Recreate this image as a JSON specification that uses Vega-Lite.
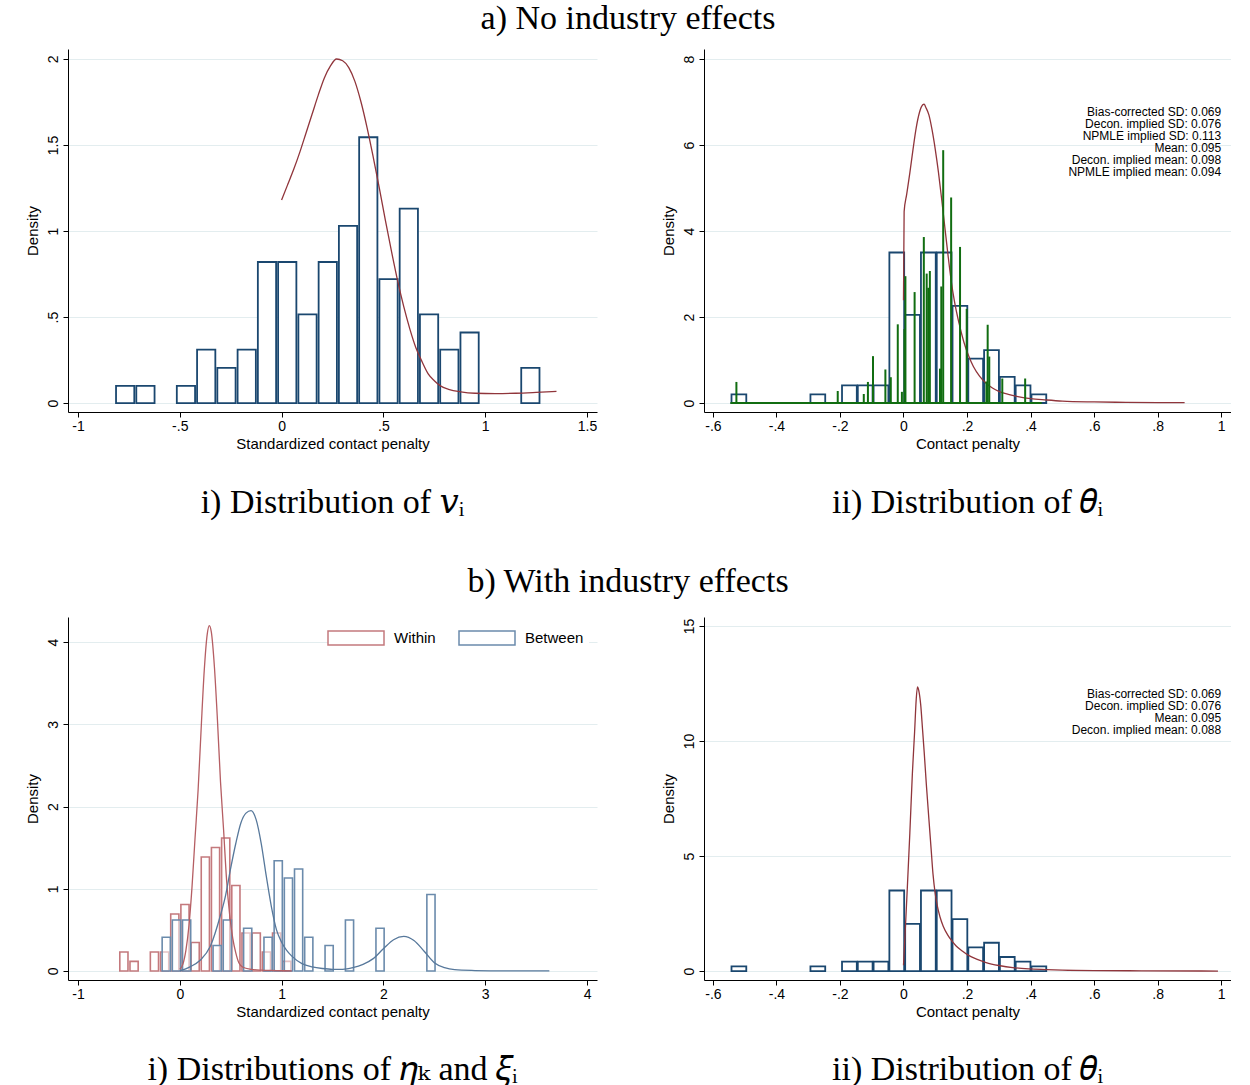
{
  "$schema": "https://vega.github.io/schema/vega-lite/v6.json",
  "background": "white",
  "padding": {"left": 25, "top": 2, "right": 0, "bottom": 0},
  "spacing": 45,
  "resolve": {"scale": {"stroke": "independent"}, "legend": {"stroke": "independent"}},
  "config": {
    "view": {"stroke": null},
    "font": "Liberation Sans",
    "axis": {"domainColor": "#000", "domainWidth": 1, "tickColor": "#000", "tickSize": 5, "labelFont": "Liberation Sans", "labelFontSize": 14, "labelColor": "#000", "titleFont": "Liberation Sans", "titleFontSize": 15, "titleFontWeight": "normal", "titleColor": "#000", "gridColor": "#e3edef", "gridWidth": 1, "labelFlush": false, "labelOverlap": false},
    "axisX": {"grid": false, "labelPadding": 2, "titlePadding": 3},
    "axisY": {"grid": true, "labelAngle": -90, "labelPadding": 3, "titlePadding": 6},
    "title": {"font": "Liberation Serif, DejaVu Serif", "fontSize": 34, "fontWeight": "normal", "color": "#000"}
  },
  "datasets": {
    "hv": [
      {"x0": -0.818, "x1": -0.7185, "d": 0.10},
      {"x0": -0.7185, "x1": -0.619, "d": 0.10},
      {"x0": -0.5195, "x1": -0.42, "d": 0.10},
      {"x0": -0.42, "x1": -0.3205, "d": 0.31},
      {"x0": -0.3205, "x1": -0.221, "d": 0.205},
      {"x0": -0.221, "x1": -0.1215, "d": 0.31},
      {"x0": -0.1215, "x1": -0.022, "d": 0.82},
      {"x0": -0.022, "x1": 0.0775, "d": 0.82},
      {"x0": 0.0775, "x1": 0.177, "d": 0.515},
      {"x0": 0.177, "x1": 0.2765, "d": 0.82},
      {"x0": 0.2765, "x1": 0.376, "d": 1.03},
      {"x0": 0.376, "x1": 0.4755, "d": 1.545},
      {"x0": 0.4755, "x1": 0.575, "d": 0.72},
      {"x0": 0.575, "x1": 0.6745, "d": 1.13},
      {"x0": 0.6745, "x1": 0.774, "d": 0.515},
      {"x0": 0.774, "x1": 0.8735, "d": 0.31},
      {"x0": 0.8735, "x1": 0.973, "d": 0.41},
      {"x0": 1.172, "x1": 1.2715, "d": 0.205}
    ],
    "cv": [
      {"x": 0.00, "y": 1.18}, {"x": 0.03, "y": 1.27}, {"x": 0.06, "y": 1.36}, {"x": 0.09, "y": 1.46},
      {"x": 0.12, "y": 1.57}, {"x": 0.15, "y": 1.68}, {"x": 0.18, "y": 1.79}, {"x": 0.21, "y": 1.89},
      {"x": 0.24, "y": 1.96}, {"x": 0.27, "y": 2.00}, {"x": 0.30, "y": 1.99}, {"x": 0.33, "y": 1.95},
      {"x": 0.36, "y": 1.87}, {"x": 0.39, "y": 1.75}, {"x": 0.42, "y": 1.60}, {"x": 0.45, "y": 1.43},
      {"x": 0.48, "y": 1.25}, {"x": 0.51, "y": 1.06}, {"x": 0.54, "y": 0.88}, {"x": 0.57, "y": 0.71},
      {"x": 0.60, "y": 0.56}, {"x": 0.63, "y": 0.43}, {"x": 0.66, "y": 0.32}, {"x": 0.69, "y": 0.24},
      {"x": 0.72, "y": 0.17}, {"x": 0.75, "y": 0.13}, {"x": 0.78, "y": 0.10}, {"x": 0.82, "y": 0.08},
      {"x": 0.88, "y": 0.065}, {"x": 0.95, "y": 0.057}, {"x": 1.05, "y": 0.055}, {"x": 1.15, "y": 0.057},
      {"x": 1.25, "y": 0.062}, {"x": 1.35, "y": 0.068}
    ],
    "ht": [
      {"x0": -0.543, "x1": -0.4933, "d": 0.2},
      {"x0": -0.2945, "x1": -0.2448, "d": 0.2},
      {"x0": -0.1951, "x1": -0.1454, "d": 0.41},
      {"x0": -0.1454, "x1": -0.0957, "d": 0.41},
      {"x0": -0.0957, "x1": -0.046, "d": 0.41},
      {"x0": -0.046, "x1": 0.0037, "d": 3.5},
      {"x0": 0.0037, "x1": 0.0534, "d": 2.05},
      {"x0": 0.0534, "x1": 0.1031, "d": 3.5},
      {"x0": 0.1031, "x1": 0.1528, "d": 3.5},
      {"x0": 0.1528, "x1": 0.2025, "d": 2.26},
      {"x0": 0.2025, "x1": 0.2522, "d": 1.03},
      {"x0": 0.2522, "x1": 0.3019, "d": 1.23},
      {"x0": 0.3019, "x1": 0.3516, "d": 0.61},
      {"x0": 0.3516, "x1": 0.4013, "d": 0.41},
      {"x0": 0.4013, "x1": 0.451, "d": 0.2}
    ],
    "ca": [
      {"x": 0.000, "y": 2.39}, {"x": 0.002, "y": 4.45}, {"x": 0.010, "y": 4.85}, {"x": 0.020, "y": 5.35},
      {"x": 0.030, "y": 5.90}, {"x": 0.040, "y": 6.40}, {"x": 0.050, "y": 6.75}, {"x": 0.060, "y": 6.93},
      {"x": 0.065, "y": 6.95}, {"x": 0.070, "y": 6.88}, {"x": 0.080, "y": 6.70}, {"x": 0.090, "y": 6.35},
      {"x": 0.100, "y": 5.90}, {"x": 0.110, "y": 5.37}, {"x": 0.120, "y": 4.75}, {"x": 0.130, "y": 4.10},
      {"x": 0.140, "y": 3.45}, {"x": 0.150, "y": 2.85}, {"x": 0.160, "y": 2.38}, {"x": 0.175, "y": 1.85},
      {"x": 0.190, "y": 1.42}, {"x": 0.205, "y": 1.10}, {"x": 0.220, "y": 0.85}, {"x": 0.240, "y": 0.62},
      {"x": 0.260, "y": 0.46}, {"x": 0.280, "y": 0.35}, {"x": 0.300, "y": 0.27}, {"x": 0.330, "y": 0.20},
      {"x": 0.360, "y": 0.15}, {"x": 0.400, "y": 0.10}, {"x": 0.450, "y": 0.07}, {"x": 0.500, "y": 0.045},
      {"x": 0.600, "y": 0.025}, {"x": 0.700, "y": 0.015}, {"x": 0.800, "y": 0.01}, {"x": 0.885, "y": 0.008}
    ],
    "sp": [
      {"x": -0.526, "h": 0.49}, {"x": -0.207, "h": 0.28}, {"x": -0.125, "h": 0.21}, {"x": -0.112, "h": 0.49},
      {"x": -0.096, "h": 1.09}, {"x": -0.057, "h": 0.78}, {"x": -0.040, "h": 0.60}, {"x": -0.018, "h": 1.83},
      {"x": -0.005, "h": 0.26}, {"x": 0.003, "h": 1.72}, {"x": 0.006, "h": 2.95}, {"x": 0.035, "h": 2.58},
      {"x": 0.064, "h": 3.86}, {"x": 0.073, "h": 3.01}, {"x": 0.078, "h": 2.68}, {"x": 0.083, "h": 3.07},
      {"x": 0.115, "h": 0.80}, {"x": 0.119, "h": 2.71}, {"x": 0.125, "h": 5.88}, {"x": 0.150, "h": 4.78},
      {"x": 0.178, "h": 3.63}, {"x": 0.199, "h": 2.19}, {"x": 0.261, "h": 0.50}, {"x": 0.265, "h": 1.82},
      {"x": 0.270, "h": 1.08}, {"x": 0.311, "h": 0.57}, {"x": 0.383, "h": 0.57}
    ],
    "sb": [{"a": -0.545, "b": 0.435}],
    "ta": [{"x": 1.0, "y": 6.88, "t": "Bias-corrected SD: 0.069\nDecon. implied SD: 0.076\nNPMLE implied SD: 0.113\nMean: 0.095\nDecon. implied mean: 0.098\nNPMLE implied mean: 0.094"}],
    "hb": [
      {"g": "Within", "x0": -0.599, "x1": -0.499, "d": 0.231},
      {"g": "Within", "x0": -0.499, "x1": -0.399, "d": 0.116},
      {"g": "Within", "x0": -0.299, "x1": -0.199, "d": 0.231},
      {"g": "Within", "x0": -0.199, "x1": -0.099, "d": 0.231},
      {"g": "Within", "x0": -0.099, "x1": 0.001, "d": 0.693},
      {"g": "Within", "x0": 0.001, "x1": 0.101, "d": 0.809},
      {"g": "Within", "x0": 0.101, "x1": 0.201, "d": 0.347},
      {"g": "Within", "x0": 0.201, "x1": 0.301, "d": 1.386},
      {"g": "Within", "x0": 0.301, "x1": 0.401, "d": 1.502},
      {"g": "Within", "x0": 0.401, "x1": 0.501, "d": 1.617},
      {"g": "Within", "x0": 0.501, "x1": 0.601, "d": 1.040},
      {"g": "Within", "x0": 0.601, "x1": 0.701, "d": 0.462},
      {"g": "Within", "x0": 0.701, "x1": 0.801, "d": 0.462},
      {"g": "Within", "x0": 0.801, "x1": 0.901, "d": 0.231},
      {"g": "Within", "x0": 0.901, "x1": 1.001, "d": 0.462},
      {"g": "Within", "x0": 1.001, "x1": 1.101, "d": 0.116},
      {"g": "Between", "x0": -0.183, "x1": -0.083, "d": 0.41},
      {"g": "Between", "x0": -0.083, "x1": 0.017, "d": 0.62},
      {"g": "Between", "x0": 0.017, "x1": 0.117, "d": 0.62},
      {"g": "Between", "x0": 0.317, "x1": 0.417, "d": 0.31},
      {"g": "Between", "x0": 0.417, "x1": 0.517, "d": 0.62},
      {"g": "Between", "x0": 0.617, "x1": 0.717, "d": 0.52},
      {"g": "Between", "x0": 0.817, "x1": 0.917, "d": 0.41},
      {"g": "Between", "x0": 0.917, "x1": 1.017, "d": 1.34},
      {"g": "Between", "x0": 1.017, "x1": 1.117, "d": 1.13},
      {"g": "Between", "x0": 1.117, "x1": 1.217, "d": 1.24},
      {"g": "Between", "x0": 1.217, "x1": 1.317, "d": 0.41},
      {"g": "Between", "x0": 1.417, "x1": 1.517, "d": 0.31},
      {"g": "Between", "x0": 1.617, "x1": 1.717, "d": 0.62},
      {"g": "Between", "x0": 1.917, "x1": 2.017, "d": 0.52},
      {"g": "Between", "x0": 2.417, "x1": 2.517, "d": 0.93}
    ],
    "cw": [
      {"x": 0.00, "y": 0.02}, {"x": 0.03, "y": 0.08}, {"x": 0.06, "y": 0.25}, {"x": 0.09, "y": 0.55},
      {"x": 0.12, "y": 1.02}, {"x": 0.15, "y": 1.62}, {"x": 0.18, "y": 2.20}, {"x": 0.21, "y": 2.95},
      {"x": 0.24, "y": 3.65}, {"x": 0.27, "y": 4.10}, {"x": 0.29, "y": 4.20}, {"x": 0.31, "y": 4.12},
      {"x": 0.34, "y": 3.70}, {"x": 0.37, "y": 3.05}, {"x": 0.40, "y": 2.30}, {"x": 0.43, "y": 1.72},
      {"x": 0.46, "y": 1.10}, {"x": 0.49, "y": 0.68}, {"x": 0.52, "y": 0.40}, {"x": 0.55, "y": 0.22},
      {"x": 0.58, "y": 0.10}, {"x": 0.62, "y": 0.045}, {"x": 0.70, "y": 0.02}, {"x": 0.80, "y": 0.01},
      {"x": 0.95, "y": 0.005}, {"x": 1.10, "y": 0.0}
    ],
    "cb": [
      {"x": 0.00, "y": 0.00}, {"x": 0.10, "y": 0.05}, {"x": 0.20, "y": 0.13}, {"x": 0.30, "y": 0.30},
      {"x": 0.40, "y": 0.68}, {"x": 0.45, "y": 0.92}, {"x": 0.50, "y": 1.25}, {"x": 0.55, "y": 1.55},
      {"x": 0.60, "y": 1.80}, {"x": 0.65, "y": 1.92}, {"x": 0.70, "y": 1.95}, {"x": 0.75, "y": 1.84},
      {"x": 0.80, "y": 1.55}, {"x": 0.85, "y": 1.15}, {"x": 0.90, "y": 0.78}, {"x": 0.95, "y": 0.50},
      {"x": 1.00, "y": 0.35}, {"x": 1.05, "y": 0.25}, {"x": 1.10, "y": 0.18}, {"x": 1.20, "y": 0.09},
      {"x": 1.30, "y": 0.05}, {"x": 1.40, "y": 0.03}, {"x": 1.50, "y": 0.02}, {"x": 1.60, "y": 0.02},
      {"x": 1.70, "y": 0.04}, {"x": 1.80, "y": 0.08}, {"x": 1.90, "y": 0.15}, {"x": 2.00, "y": 0.27},
      {"x": 2.10, "y": 0.38}, {"x": 2.20, "y": 0.42}, {"x": 2.30, "y": 0.37}, {"x": 2.40, "y": 0.24},
      {"x": 2.50, "y": 0.10}, {"x": 2.60, "y": 0.04}, {"x": 2.70, "y": 0.015}, {"x": 2.90, "y": 0.005},
      {"x": 3.20, "y": 0.0}, {"x": 3.63, "y": 0.0}
    ],
    "cc": [
      {"x": 0.000, "y": 0.25}, {"x": 0.005, "y": 1.6}, {"x": 0.012, "y": 3.6}, {"x": 0.020, "y": 6.0},
      {"x": 0.028, "y": 8.6}, {"x": 0.035, "y": 10.4}, {"x": 0.040, "y": 11.8}, {"x": 0.044, "y": 12.35},
      {"x": 0.048, "y": 12.2}, {"x": 0.054, "y": 11.6}, {"x": 0.060, "y": 10.5}, {"x": 0.065, "y": 9.55},
      {"x": 0.072, "y": 8.1}, {"x": 0.080, "y": 6.6}, {"x": 0.087, "y": 5.3}, {"x": 0.093, "y": 4.2},
      {"x": 0.100, "y": 3.35}, {"x": 0.107, "y": 2.8}, {"x": 0.115, "y": 2.35}, {"x": 0.125, "y": 1.95},
      {"x": 0.140, "y": 1.55}, {"x": 0.150, "y": 1.35}, {"x": 0.165, "y": 1.1}, {"x": 0.185, "y": 0.87},
      {"x": 0.205, "y": 0.68}, {"x": 0.230, "y": 0.52}, {"x": 0.260, "y": 0.37}, {"x": 0.300, "y": 0.24},
      {"x": 0.350, "y": 0.14}, {"x": 0.400, "y": 0.09}, {"x": 0.450, "y": 0.06}, {"x": 0.500, "y": 0.04},
      {"x": 0.600, "y": 0.02}, {"x": 0.750, "y": 0.01}, {"x": 0.990, "y": 0.0}
    ],
    "tb": [{"x": 1.0, "y": 12.25, "t": "Bias-corrected SD: 0.069\nDecon. implied SD: 0.076\nMean: 0.095\nDecon. implied mean: 0.088"}]
  },
  "vconcat": [
    {
      "title": {"text": "a) No industry effects", "anchor": "middle", "offset": 13},
      "spacing": 64,
      "resolve": {"scale": {"stroke": "independent"}, "legend": {"stroke": "independent"}},
      "hconcat": [
        {
          "title": {"text": "i) Distribution of 𝑣ᵢ", "orient": "bottom", "anchor": "middle", "offset": 35},
          "width": 529, "height": 363,
          "layer": [
            {
              "data": {"name": "hv"},
              "mark": {"type": "rect", "fill": "white", "stroke": "#1a476f", "strokeWidth": 1.8, "xOffset": 1, "x2Offset": -1},
              "encoding": {
                "x": {"field": "x0", "type": "quantitative", "scale": {"domain": [-1.049, 1.549], "nice": false, "zero": false}, "axis": {"values": [-1, -0.5, 0, 0.5, 1, 1.5], "title": "Standardized contact penalty", "labelExpr": "(datum.value < 0 ? '-' : '') + replace(format(abs(datum.value), '~g'), '0.', '.')"}},
                "x2": {"field": "x1"},
                "y": {"field": "d", "type": "quantitative", "scale": {"domain": [-0.052, 2.058], "nice": false, "zero": false}, "axis": {"values": [0, 0.5, 1, 1.5, 2], "title": "Density", "labelExpr": "(datum.value < 0 ? '-' : '') + replace(format(abs(datum.value), '~g'), '0.', '.')"}},
                "y2": {"datum": 0}
              }
            },
            {
              "data": {"name": "cv"},
              "mark": {"type": "line", "color": "#90353b", "strokeWidth": 1.3, "interpolate": "monotone"},
              "encoding": {
                "x": {"field": "x", "type": "quantitative"},
                "y": {"field": "y", "type": "quantitative"}
              }
            }
          ]
        },
        {
          "title": {"text": "ii) Distribution of 𝜃ᵢ", "orient": "bottom", "anchor": "middle", "offset": 35},
          "width": 527, "height": 363,
          "layer": [
            {
              "data": {"name": "ht"},
              "mark": {"type": "rect", "fill": "white", "stroke": "#1a476f", "strokeWidth": 1.8, "xOffset": 0.5, "x2Offset": -0.5},
              "encoding": {
                "x": {"field": "x0", "type": "quantitative", "scale": {"domain": [-0.628, 1.031], "nice": false, "zero": false}, "axis": {"values": [-0.6, -0.4, -0.2, 0, 0.2, 0.4, 0.6, 0.8, 1], "title": "Contact penalty", "labelExpr": "(datum.value < 0 ? '-' : '') + replace(format(abs(datum.value), '~g'), '0.', '.')"}},
                "x2": {"field": "x1"},
                "y": {"field": "d", "type": "quantitative", "scale": {"domain": [-0.209, 8.233], "nice": false, "zero": false}, "axis": {"values": [0, 2, 4, 6, 8], "title": "Density"}},
                "y2": {"datum": 0}
              }
            },
            {
              "data": {"name": "ca"},
              "mark": {"type": "line", "color": "#90353b", "strokeWidth": 1.3, "interpolate": "monotone"},
              "encoding": {
                "x": {"field": "x", "type": "quantitative"},
                "y": {"field": "y", "type": "quantitative"}
              }
            },
            {
              "data": {"name": "sb"},
              "mark": {"type": "rule", "color": "#116d11", "strokeWidth": 2},
              "encoding": {
                "x": {"field": "a", "type": "quantitative"},
                "x2": {"field": "b"},
                "y": {"datum": 0, "type": "quantitative"}
              }
            },
            {
              "data": {"name": "sp"},
              "mark": {"type": "rule", "color": "#116d11", "strokeWidth": 2},
              "encoding": {
                "x": {"field": "x", "type": "quantitative"},
                "y": {"field": "h", "type": "quantitative"},
                "y2": {"datum": 0}
              }
            },
            {
              "data": {"name": "ta"},
              "mark": {"type": "text", "align": "right", "baseline": "top", "fontSize": 12, "lineBreak": "\n", "lineHeight": 12, "color": "#000"},
              "encoding": {
                "x": {"field": "x", "type": "quantitative"},
                "y": {"field": "y", "type": "quantitative"},
                "text": {"field": "t"}
              }
            }
          ]
        }
      ]
    },
    {
      "title": {"text": "b) With industry effects", "anchor": "middle", "offset": 18},
      "spacing": 64,
      "resolve": {"scale": {"stroke": "independent"}, "legend": {"stroke": "independent"}},
      "hconcat": [
        {
          "title": {"text": "i) Distributions of 𝜂ₖ and 𝜉ᵢ", "orient": "bottom", "anchor": "middle", "offset": 34},
          "width": 529, "height": 363,
          "layer": [
            {
              "data": {"name": "hb"},
              "mark": {"type": "rect", "fill": "white", "strokeWidth": 1.6, "xOffset": 1, "x2Offset": -1},
              "encoding": {
                "x": {"field": "x0", "type": "quantitative", "scale": {"domain": [-1.098, 4.098], "nice": false, "zero": false}, "axis": {"values": [-1, 0, 1, 2, 3, 4], "title": "Standardized contact penalty", "labelExpr": "(datum.value < 0 ? '-' : '') + format(abs(datum.value), '~g')"}},
                "x2": {"field": "x1"},
                "y": {"field": "d", "type": "quantitative", "scale": {"domain": [-0.11, 4.305], "nice": false, "zero": false}, "axis": {"values": [0, 1, 2, 3, 4], "title": "Density", "labelExpr": "format(datum.value, '~g')"}},
                "y2": {"datum": 0},
                "stroke": {"field": "g", "type": "nominal", "scale": {"domain": ["Within", "Between"], "range": ["#c4797d", "#6b8bac"]}, "legend": {"title": null, "orient": "top-right", "direction": "horizontal", "symbolType": "M-4,-1H4V1H-4Z", "symbolSize": 196, "symbolFillColor": "white", "symbolStrokeWidth": 1.5, "labelFontSize": 15, "labelFont": "Liberation Sans", "labelColor": "#000", "fillColor": "white", "padding": 5, "offset": 8, "columnPadding": 20, "labelOffset": 30}},
                "fillOpacity": {"condition": {"test": "datum.g === 'Between'", "value": 0.55}, "value": 1}
              }
            },
            {
              "data": {"name": "cw"},
              "mark": {"type": "line", "color": "#b55e63", "strokeWidth": 1.3, "interpolate": "monotone"},
              "encoding": {
                "x": {"field": "x", "type": "quantitative"},
                "y": {"field": "y", "type": "quantitative"}
              }
            },
            {
              "data": {"name": "cb"},
              "mark": {"type": "line", "color": "#57789b", "strokeWidth": 1.3, "interpolate": "monotone"},
              "encoding": {
                "x": {"field": "x", "type": "quantitative"},
                "y": {"field": "y", "type": "quantitative"}
              }
            }
          ]
        },
        {
          "title": {"text": "ii) Distribution of 𝜃ᵢ", "orient": "bottom", "anchor": "middle", "offset": 34},
          "width": 527, "height": 363,
          "layer": [
            {
              "data": {"name": "ht"},
              "mark": {"type": "rect", "fill": "white", "stroke": "#1a476f", "strokeWidth": 1.8, "xOffset": 0.5, "x2Offset": -0.5},
              "encoding": {
                "x": {"field": "x0", "type": "quantitative", "scale": {"domain": [-0.628, 1.031], "nice": false, "zero": false}, "axis": {"values": [-0.6, -0.4, -0.2, 0, 0.2, 0.4, 0.6, 0.8, 1], "title": "Contact penalty", "labelExpr": "(datum.value < 0 ? '-' : '') + replace(format(abs(datum.value), '~g'), '0.', '.')"}},
                "x2": {"field": "x1"},
                "y": {"field": "d", "type": "quantitative", "scale": {"domain": [-0.39, 15.39], "nice": false, "zero": false}, "axis": {"values": [0, 5, 10, 15], "title": "Density"}},
                "y2": {"datum": 0}
              }
            },
            {
              "data": {"name": "cc"},
              "mark": {"type": "line", "color": "#90353b", "strokeWidth": 1.3, "interpolate": "monotone"},
              "encoding": {
                "x": {"field": "x", "type": "quantitative"},
                "y": {"field": "y", "type": "quantitative"}
              }
            },
            {
              "data": {"name": "tb"},
              "mark": {"type": "text", "align": "right", "baseline": "top", "fontSize": 12, "lineBreak": "\n", "lineHeight": 12, "color": "#000"},
              "encoding": {
                "x": {"field": "x", "type": "quantitative"},
                "y": {"field": "y", "type": "quantitative"},
                "text": {"field": "t"}
              }
            }
          ]
        }
      ]
    }
  ]
}
